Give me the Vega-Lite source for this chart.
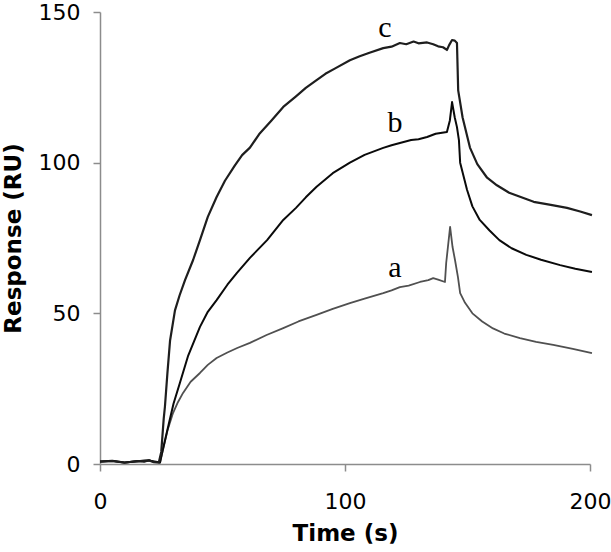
{
  "$schema": "https://vega.github.io/schema/vega-lite/v6.json",
  "width": 490,
  "height": 452,
  "autosize": {"type": "none"},
  "padding": {"left": 100, "top": 12, "right": 21, "bottom": 88},
  "background": "white",
  "config": {"view": {"stroke": null}},
  "datasets": {
    "curves": [
      {"t": 0, "R": 0.8, "curve": "a"}, {"t": 5, "R": 1.0, "curve": "a"}, {"t": 10, "R": 0.4, "curve": "a"}, {"t": 15, "R": 1.0, "curve": "a"}, {"t": 18, "R": 0.6, "curve": "a"}, {"t": 20, "R": 1.3, "curve": "a"}, {"t": 22, "R": 0.6, "curve": "a"}, {"t": 24.5, "R": 0.5, "curve": "a"},
      {"t": 25.5, "R": 4, "curve": "a"}, {"t": 27.5, "R": 11, "curve": "a"}, {"t": 29.8, "R": 16.9, "curve": "a"}, {"t": 31.8, "R": 20.5, "curve": "a"}, {"t": 33.9, "R": 23.6, "curve": "a"}, {"t": 37, "R": 27.3, "curve": "a"}, {"t": 40.8, "R": 30.2, "curve": "a"}, {"t": 44, "R": 32.9, "curve": "a"}, {"t": 47.6, "R": 35.2, "curve": "a"}, {"t": 52, "R": 37, "curve": "a"}, {"t": 56, "R": 38.5, "curve": "a"}, {"t": 61.2, "R": 40.2, "curve": "a"}, {"t": 68, "R": 42.8, "curve": "a"}, {"t": 74.8, "R": 45.1, "curve": "a"}, {"t": 81, "R": 47.3, "curve": "a"}, {"t": 88.4, "R": 49.5, "curve": "a"}, {"t": 95, "R": 51.5, "curve": "a"}, {"t": 102, "R": 53.4, "curve": "a"}, {"t": 108, "R": 54.9, "curve": "a"}, {"t": 115.6, "R": 56.7, "curve": "a"}, {"t": 119, "R": 57.6, "curve": "a"}, {"t": 122.4, "R": 58.7, "curve": "a"}, {"t": 126, "R": 59.2, "curve": "a"}, {"t": 130.6, "R": 60.4, "curve": "a"}, {"t": 134, "R": 61, "curve": "a"}, {"t": 136, "R": 61.7, "curve": "a"}, {"t": 138, "R": 61.2, "curve": "a"}, {"t": 140.8, "R": 60.4, "curve": "a"}, {"t": 141.3, "R": 66.7, "curve": "a"}, {"t": 142.9, "R": 78.7, "curve": "a"}, {"t": 143.9, "R": 72, "curve": "a"}, {"t": 144.9, "R": 67.7, "curve": "a"}, {"t": 146.1, "R": 62, "curve": "a"}, {"t": 147, "R": 56.7, "curve": "a"}, {"t": 149, "R": 53.5, "curve": "a"}, {"t": 152, "R": 50, "curve": "a"}, {"t": 156, "R": 47.3, "curve": "a"}, {"t": 160.4, "R": 45, "curve": "a"}, {"t": 165, "R": 43.3, "curve": "a"}, {"t": 171.4, "R": 41.8, "curve": "a"}, {"t": 178, "R": 40.5, "curve": "a"}, {"t": 185, "R": 39.5, "curve": "a"}, {"t": 193, "R": 38.2, "curve": "a"}, {"t": 200.8, "R": 36.8, "curve": "a"},

      {"t": 0, "R": 0.8, "curve": "b"}, {"t": 5, "R": 1.1, "curve": "b"}, {"t": 10, "R": 0.5, "curve": "b"}, {"t": 15, "R": 0.9, "curve": "b"}, {"t": 20, "R": 1.2, "curve": "b"}, {"t": 24.5, "R": 0.5, "curve": "b"},
      {"t": 25.3, "R": 3.6, "curve": "b"}, {"t": 28, "R": 13, "curve": "b"}, {"t": 30, "R": 20, "curve": "b"}, {"t": 32.6, "R": 26.9, "curve": "b"}, {"t": 36, "R": 36, "curve": "b"}, {"t": 40.8, "R": 45.5, "curve": "b"}, {"t": 44, "R": 50.5, "curve": "b"}, {"t": 47.6, "R": 54.4, "curve": "b"}, {"t": 52, "R": 59.5, "curve": "b"}, {"t": 55.9, "R": 63.4, "curve": "b"}, {"t": 61.2, "R": 68.4, "curve": "b"}, {"t": 68.2, "R": 74.3, "curve": "b"}, {"t": 74.8, "R": 81, "curve": "b"}, {"t": 80, "R": 85, "curve": "b"}, {"t": 84, "R": 88.5, "curve": "b"}, {"t": 88.4, "R": 92, "curve": "b"}, {"t": 95, "R": 96.5, "curve": "b"}, {"t": 102, "R": 100, "curve": "b"}, {"t": 108, "R": 102.6, "curve": "b"}, {"t": 115.6, "R": 104.9, "curve": "b"}, {"t": 119, "R": 105.8, "curve": "b"}, {"t": 122.4, "R": 106.5, "curve": "b"}, {"t": 127, "R": 107.5, "curve": "b"}, {"t": 130, "R": 107.8, "curve": "b"}, {"t": 133.5, "R": 108.5, "curve": "b"}, {"t": 137, "R": 109.6, "curve": "b"}, {"t": 141.6, "R": 110.2, "curve": "b"}, {"t": 142.8, "R": 114, "curve": "b"}, {"t": 143.7, "R": 120.1, "curve": "b"}, {"t": 144.8, "R": 115, "curve": "b"}, {"t": 145.7, "R": 111.8, "curve": "b"}, {"t": 146.5, "R": 107.5, "curve": "b"}, {"t": 147, "R": 100, "curve": "b"}, {"t": 149.8, "R": 91, "curve": "b"}, {"t": 152, "R": 85.5, "curve": "b"}, {"t": 155, "R": 81, "curve": "b"}, {"t": 159, "R": 77.5, "curve": "b"}, {"t": 163, "R": 74.3, "curve": "b"}, {"t": 168, "R": 71.6, "curve": "b"}, {"t": 174, "R": 69.4, "curve": "b"}, {"t": 180, "R": 67.8, "curve": "b"}, {"t": 187.8, "R": 66, "curve": "b"}, {"t": 194, "R": 64.8, "curve": "b"}, {"t": 200.8, "R": 63.7, "curve": "b"},

      {"t": 0, "R": 0.8, "curve": "c"}, {"t": 5, "R": 1.0, "curve": "c"}, {"t": 10, "R": 0.5, "curve": "c"}, {"t": 15, "R": 0.9, "curve": "c"}, {"t": 20, "R": 1.2, "curve": "c"}, {"t": 22, "R": 0.6, "curve": "c"}, {"t": 24, "R": 0.5, "curve": "c"},
      {"t": 25, "R": 4, "curve": "c"}, {"t": 26, "R": 15, "curve": "c"}, {"t": 26.5, "R": 19, "curve": "c"}, {"t": 27.5, "R": 30, "curve": "c"}, {"t": 28.6, "R": 41, "curve": "c"}, {"t": 30.6, "R": 51, "curve": "c"}, {"t": 32.5, "R": 56, "curve": "c"}, {"t": 34.7, "R": 61, "curve": "c"}, {"t": 38, "R": 67.7, "curve": "c"}, {"t": 40.8, "R": 74.3, "curve": "c"}, {"t": 44, "R": 82, "curve": "c"}, {"t": 47.6, "R": 88.6, "curve": "c"}, {"t": 51, "R": 94, "curve": "c"}, {"t": 55, "R": 99, "curve": "c"}, {"t": 58, "R": 102.5, "curve": "c"}, {"t": 61.2, "R": 105, "curve": "c"}, {"t": 65, "R": 109.5, "curve": "c"}, {"t": 70, "R": 114, "curve": "c"}, {"t": 74.8, "R": 118.5, "curve": "c"}, {"t": 80, "R": 122, "curve": "c"}, {"t": 84, "R": 124.8, "curve": "c"}, {"t": 88.4, "R": 127.4, "curve": "c"}, {"t": 92, "R": 129.5, "curve": "c"}, {"t": 96, "R": 131.3, "curve": "c"}, {"t": 102, "R": 134, "curve": "c"}, {"t": 106, "R": 135.3, "curve": "c"}, {"t": 110, "R": 136.5, "curve": "c"}, {"t": 115.6, "R": 138, "curve": "c"}, {"t": 119, "R": 138.5, "curve": "c"}, {"t": 122.4, "R": 139.7, "curve": "c"}, {"t": 125, "R": 139.3, "curve": "c"}, {"t": 128, "R": 140.2, "curve": "c"}, {"t": 130, "R": 139.6, "curve": "c"}, {"t": 133.5, "R": 139.9, "curve": "c"}, {"t": 136, "R": 139.3, "curve": "c"}, {"t": 138, "R": 138.6, "curve": "c"}, {"t": 140, "R": 138.3, "curve": "c"}, {"t": 141.6, "R": 137.4, "curve": "c"}, {"t": 142.5, "R": 139, "curve": "c"}, {"t": 143.7, "R": 140.7, "curve": "c"}, {"t": 144.8, "R": 140.5, "curve": "c"}, {"t": 145.7, "R": 139.7, "curve": "c"}, {"t": 146.2, "R": 124, "curve": "c"}, {"t": 146.6, "R": 122, "curve": "c"}, {"t": 148, "R": 115, "curve": "c"}, {"t": 151, "R": 105, "curve": "c"}, {"t": 154, "R": 99.5, "curve": "c"}, {"t": 158, "R": 95, "curve": "c"}, {"t": 162, "R": 92.5, "curve": "c"}, {"t": 167, "R": 90, "curve": "c"}, {"t": 172, "R": 88.5, "curve": "c"}, {"t": 177, "R": 87, "curve": "c"}, {"t": 184, "R": 86, "curve": "c"}, {"t": 190.6, "R": 85, "curve": "c"}, {"t": 196, "R": 83.8, "curve": "c"}, {"t": 200.8, "R": 82.6, "curve": "c"}
    ],
    "labels": [
      {"t": 116.3, "R": 144.7, "label": "c"},
      {"t": 120.4, "R": 113.2, "label": "b"},
      {"t": 120.4, "R": 65, "label": "a"}
    ]
  },
  "layer": [
    {
      "data": {"name": "curves"},
      "mark": {"type": "line", "strokeJoin": "round"},
      "encoding": {
        "x": {
          "field": "t", "type": "quantitative",
          "scale": {"domain": [0, 200], "nice": false, "zero": false},
          "axis": {
            "title": "Time (s)", "values": [0, 100, 200], "grid": false,
            "domainColor": "#8c8c8c", "domainWidth": 1.5,
            "tickColor": "#8c8c8c", "tickWidth": 1.5, "tickSize": 7,
            "labelFont": "DejaVu Sans", "labelFontSize": 22, "labelColor": "#000",
            "labelPadding": 20, "labelFlush": false,
            "titleFont": "DejaVu Sans", "titleFontSize": 23, "titleFontWeight": "bold",
            "titleColor": "#000", "titlePadding": 10
          }
        },
        "y": {
          "field": "R", "type": "quantitative",
          "scale": {"domain": [0, 150], "nice": false},
          "axis": {
            "title": "Response (RU)", "values": [0, 50, 100, 150], "grid": false,
            "domainColor": "#8c8c8c", "domainWidth": 1.5,
            "tickColor": "#8c8c8c", "tickWidth": 1.5, "tickSize": 7,
            "labelFont": "DejaVu Sans", "labelFontSize": 22, "labelColor": "#000",
            "labelPadding": 13, "labelFlush": false,
            "titleFont": "DejaVu Sans", "titleFontSize": 23, "titleFontWeight": "bold",
            "titleColor": "#000", "titlePadding": 13
          }
        },
        "color": {
          "field": "curve", "type": "nominal",
          "scale": {"domain": ["a", "b", "c"], "range": ["#505050", "#0a0a0a", "#1e1e1e"]},
          "legend": null
        },
        "strokeWidth": {
          "field": "curve", "type": "nominal",
          "scale": {"domain": ["a", "b", "c"], "range": [1.8, 2.2, 2]},
          "legend": null
        }
      }
    },
    {
      "data": {"name": "labels"},
      "mark": {"type": "text", "font": "Liberation Serif", "fontSize": 30, "color": "#000", "align": "center", "baseline": "middle"},
      "encoding": {
        "x": {"field": "t", "type": "quantitative"},
        "y": {"field": "R", "type": "quantitative"},
        "text": {"field": "label"}
      }
    }
  ]
}
